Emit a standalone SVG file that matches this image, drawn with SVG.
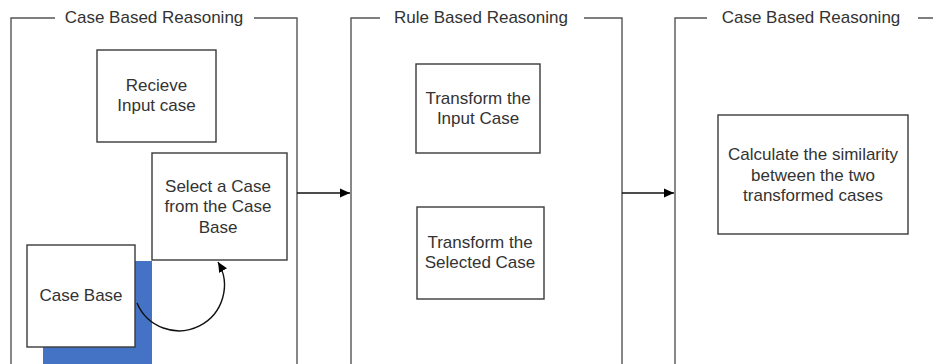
<svg xmlns="http://www.w3.org/2000/svg" width="933" height="364" viewBox="0 0 933 364">
  <style>
    .frame { fill: none; stroke: #555; stroke-width: 1.4; }
    .box { fill: #fff; stroke: #3a3a3a; stroke-width: 1.4; }
    .label { font-family: "Liberation Sans", Arial, sans-serif; font-size: 17px; fill: #333; text-anchor: middle; }
    .link { fill: none; stroke: #111; stroke-width: 1.4; }
  </style>
  <defs>
    <marker id="arrow" markerWidth="11" markerHeight="11" refX="10" refY="5.5" orient="auto" markerUnits="userSpaceOnUse">
      <path d="M0,1 L10,5.5 L0,10 Z" fill="#000"/>
    </marker>
  </defs>
  <rect width="933" height="364" fill="#fff"/>

  <!-- Stage frames: open-bottom brackets with a title set into the top edge -->
  <g id="frame-cbr-1">
    <path class="frame" d="M11,364 V18 H55 M254,18 H297 V364"/>
    <text class="label" x="154" y="23">Case Based Reasoning</text>
  </g>
  <g id="frame-rbr">
    <path class="frame" d="M351,364 V18 H380 M584,18 H622 V364"/>
    <text class="label" x="481" y="23">Rule Based Reasoning</text>
  </g>
  <g id="frame-cbr-2">
    <path class="frame" d="M675,364 V18 H707 M918,18 H933"/>
    <text class="label" x="811" y="23">Case Based Reasoning</text>
  </g>

  <!-- Steps -->
  <g id="receive-input">
    <rect class="box" x="97" y="50" width="119" height="92"/>
    <text class="label" x="156.5" y="91">Recieve</text>
    <text class="label" x="156.5" y="111">Input case</text>
  </g>
  <g id="case-base">
    <rect x="43" y="261" width="109" height="103" fill="#4472c4"/>
    <rect class="box" x="27" y="245" width="108" height="102"/>
    <text class="label" x="81" y="301">Case Base</text>
  </g>
  <g id="select-case">
    <rect class="box" x="152" y="153" width="135" height="107"/>
    <text class="label" x="218" y="192">Select a Case</text>
    <text class="label" x="218" y="212">from the Case</text>
    <text class="label" x="218" y="233">Base</text>
  </g>
  <g id="transform-input">
    <rect class="box" x="416" y="64" width="124" height="89"/>
    <text class="label" x="478" y="104">Transform the</text>
    <text class="label" x="478" y="124">Input Case</text>
  </g>
  <g id="transform-selected">
    <rect class="box" x="417" y="207" width="127" height="92"/>
    <text class="label" x="480" y="248">Transform the</text>
    <text class="label" x="480" y="268">Selected Case</text>
  </g>
  <g id="calculate-similarity">
    <rect class="box" x="718" y="115" width="190" height="119"/>
    <text class="label" x="813" y="160">Calculate the similarity</text>
    <text class="label" x="813" y="181">between the two</text>
    <text class="label" x="813" y="201">transformed cases</text>
  </g>

  <!-- Connectors -->
  <g id="connectors">
    <path class="link" d="M297,193 H350" marker-end="url(#arrow)"/>
    <path class="link" d="M622,193 H674" marker-end="url(#arrow)"/>
    <path class="link" d="M137,303 A45.5,45.5 0 1 0 218,262" marker-end="url(#arrow)"/>
  </g>
</svg>
